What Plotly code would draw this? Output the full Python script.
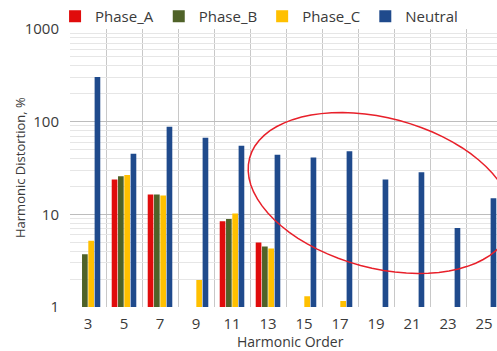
import math
import plotly.graph_objects as go

harmonics = [3, 5, 7, 9, 11, 13, 15, 17, 19, 21, 23, 25]
phase_a = [None, 23.8, 16.4, None, 8.4, 4.97, None, None, None, None, None, None]
phase_b = [3.7, 25.8, 16.4, None, 8.9, 4.5, None, None, None, None, None, None]
phase_c = [5.2, 26.5, 16.0, 1.95, 10.2, 4.27, 1.31, 1.16, None, None, None, None]
neutral = [304, 45, 88, 67, 55, 44, 41, 48, 23.8, 28.4, 7.1, 14.9]

names = ["Phase_A", "Phase_B", "Phase_C", "Neutral"]
colors = ["#E00C0C", "#4F6228", "#FFC000", "#1F4A8C"]

FONT = "Open Sans"
TXT = "#3a3a3a"

fig = go.Figure()
for name, vals, col in zip(names, [phase_a, phase_b, phase_c, neutral], colors):
    fig.add_trace(go.Bar(x=harmonics, y=vals, name=name, marker_color=col,
                         marker_line_width=0))

# plot area geometry (pixels)
W, H = 497, 351
L, R, T, B = 70, 0, 29, 44
pw = W - L - R
ph = H - T - B

# red highlight ellipse (decoration), built in pixel space then mapped to paper
cx, cy, a, b, th = 380, 193, 135, 75, math.radians(15)
pts = []
for i in range(0, 73):
    t = 2 * math.pi * i / 72
    X = cx + a * math.cos(t) * math.cos(th) - b * math.sin(t) * math.sin(th)
    Y = cy + a * math.cos(t) * math.sin(th) + b * math.sin(t) * math.cos(th)
    pts.append(((X - L) / pw, (H - B - Y) / ph))
path = "M " + " L ".join(f"{x:.4f},{y:.4f}" for x, y in pts) + " Z"

fig.update_layout(
    width=W, height=H,
    margin=dict(l=L, r=R, t=T, b=B, autoexpand=False),
    paper_bgcolor="white", plot_bgcolor="white",
    font=dict(family=FONT, color=TXT, size=14),
    barmode="group", bargap=0.3, bargroupgap=0.1,
    showlegend=True,
    legend=dict(orientation="h", x=-0.035, xanchor="left", y=1.045, yanchor="middle",
                font=dict(size=15, color=TXT), itemwidth=30,
                bgcolor="rgba(0,0,0,0)", tracegroupgap=0),
    shapes=[dict(type="path", path=path, xref="paper", yref="paper",
                 line=dict(color="#E8202A", width=1.5), fillcolor="rgba(0,0,0,0)")],
    annotations=[
        dict(text="Harmonic Distortion, %", xref="paper", yref="paper",
             x=(20 - L) / pw, y=0.5, textangle=-90,
             showarrow=False, font=dict(size=13, color=TXT),
             xanchor="center", yanchor="middle"),
        dict(text="Harmonic Order", xref="paper", yref="paper",
             x=(290 - L) / pw, y=(H - B - 341) / ph,
             showarrow=False, font=dict(size=14, color=TXT),
             xanchor="center", yanchor="middle"),
    ],
)

fig.update_xaxes(
    range=[2, 2 + 24 * pw / 432],
    automargin=False,
    tickvals=harmonics, ticktext=[str(h) for h in harmonics],
    showgrid=False, zeroline=False, showline=False, ticks="",
    ticklabelstandoff=6,
    tickfont=dict(size=15, color=TXT),
    minor=dict(tickvals=list(range(2, 27, 2)), showgrid=True, gridcolor="#C8C8C8",
               gridwidth=1, ticks=""),
)
fig.update_yaxes(
    type="log", range=[0, 3],
    automargin=False,
    tickvals=[1, 10, 100, 1000], ticktext=["1", "10", "100", "1000"],
    showgrid=True, gridcolor="#BDBDBD", gridwidth=1,
    zeroline=False, showline=False, ticks="",
    ticklabelstandoff=10,
    tickfont=dict(size=15, color=TXT),
    minor=dict(dtick="D1", showgrid=True, gridcolor="#E6E6E6", gridwidth=1, ticks=""),
)

fig.write_html("out.html", config={"displayModeBar": False},
               post_script="document.body.style.margin='0';document.body.style.overflow='hidden';")
